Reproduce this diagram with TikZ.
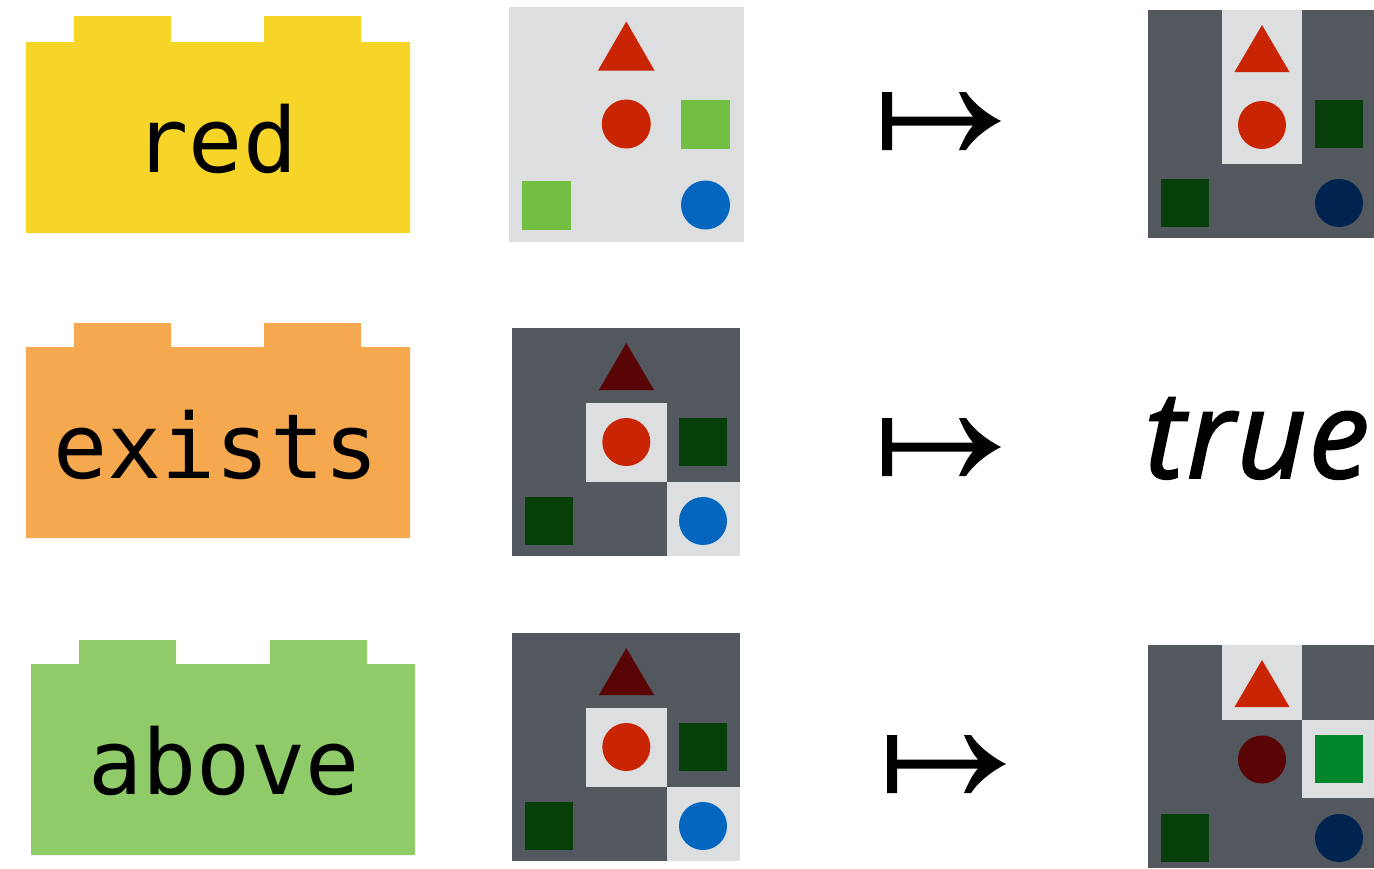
\documentclass[tikz,border=0pt]{standalone}
\usepackage{fontspec}
\usepackage{xcolor}
\setmonofont{DejaVu Sans Mono}
\newfontfamily\truefont[FakeBold=1.6,LetterSpace=1.5]{Open Sans}

\definecolor{brickyellow}{HTML}{F7D428}
\definecolor{brickorange}{HTML}{F5A84E}
\definecolor{brickgreen}{HTML}{8FCB69}
\definecolor{panellight}{HTML}{DDDEE0}
\definecolor{paneldark}{HTML}{53575E}
\definecolor{shapered}{HTML}{C92505}
\definecolor{shapedarkred}{HTML}{5A0505}
\definecolor{shapegreen}{HTML}{72BF44}
\definecolor{shapemidgreen}{HTML}{00872B}
\definecolor{shapedarkgreen}{HTML}{063F0A}
\definecolor{shapeblue}{HTML}{0466BF}
\definecolor{shapenavy}{HTML}{00244F}

\tikzset{
  word/.style={anchor=base, inner sep=0pt, font=\fontsize{90}{90}\selectfont\ttfamily},
  truth/.style={anchor=base, inner sep=0pt, font=\fontsize{122}{122}\selectfont\truefont\itshape}
}

\begin{document}
\begin{tikzpicture}[x=1pt, y=-1pt]
\useasboundingbox (0, 0) rectangle (1374, 868);
% bricks
\fill[brickyellow] (26, 233) -- (26, 42) -- (74, 42) -- (74, 16) -- (171, 16) -- (171, 42) -- (264, 42) -- (264, 16) -- (361, 16) -- (361, 42) -- (410, 42) -- (410, 233) -- cycle;
\fill[brickorange] (26, 538) -- (26, 347) -- (74, 347) -- (74, 323) -- (171, 323) -- (171, 347) -- (264, 347) -- (264, 323) -- (361, 323) -- (361, 347) -- (410, 347) -- (410, 538) -- cycle;
\fill[brickgreen] (31, 855) -- (31, 664) -- (79, 664) -- (79, 640) -- (176, 640) -- (176, 664) -- (270, 664) -- (270, 640) -- (367, 640) -- (367, 664) -- (415, 664) -- (415, 855) -- cycle;
\node[word] (red) at (216, 172) {red};
\node[word] (exists) at (216, 478) {exists};
\node[word] (above) at (224, 794) {above};
% top input
\fill[panellight] (509, 7) rectangle (744, 242);
\fill[shapered] (626.3, 21.5) -- (654.5, 70.5) -- (598, 70.5) -- cycle;
\fill[shapered] (626.3, 124) circle (24.5);
\fill[shapegreen] (681, 100) rectangle (730, 149);
\fill[shapegreen] (522, 181) rectangle (571, 230);
\fill[shapeblue] (705.5, 205) circle (24.5);
% the two other inputs
\foreach \y in {0, 305} {
\fill[paneldark] (512, 328+\y) rectangle (740, 556+\y);
\fill[panellight] (586, 403+\y) rectangle (667, 482+\y);
\fill[panellight] (667, 482+\y) rectangle (740, 556+\y);
\fill[shapedarkred] (626.3, 343+\y) -- (654, 390+\y) -- (599, 390+\y) -- cycle;
\fill[shapered] (626.3, 442+\y) circle (24);
\fill[shapedarkgreen] (679, 418+\y) rectangle (727, 466+\y);
\fill[shapedarkgreen] (525, 497+\y) rectangle (573, 545+\y);
\fill[shapeblue] (703, 521+\y) circle (24);
}
% map arrows
\foreach \x/\y in {0/0, 0/326, 5/643} {
\fill[black] (882+\x, 92+\y) -- (892+\x, 92+\y) -- (892+\x, 116.5+\y) -- (973+\x, 116.5+\y)
  .. controls (967+\x, 110+\y) and (963+\x, 101+\y) .. (959+\x, 92+\y) -- (966+\x, 92+\y)
  .. controls (973+\x, 103+\y) and (987+\x, 114+\y) .. (1001+\x, 121+\y)
  .. controls (987+\x, 128+\y) and (973+\x, 139+\y) .. (966+\x, 150+\y) -- (959+\x, 150+\y)
  .. controls (963+\x, 141+\y) and (967+\x, 132+\y) .. (973+\x, 125.5+\y)
  -- (892+\x, 125.5+\y) -- (892+\x, 150+\y) -- (882+\x, 150+\y) -- cycle;
}
% top output
\fill[paneldark] (1148, 10) rectangle (1374, 238);
\fill[panellight] (1222, 10) rectangle (1302, 164);
\fill[shapered] (1262, 25) -- (1289.5, 72) -- (1234.5, 72) -- cycle;
\fill[shapered] (1262, 125) circle (24);
\fill[shapedarkgreen] (1315, 100) rectangle (1363, 148);
\fill[shapedarkgreen] (1161, 179) rectangle (1209, 227);
\fill[shapenavy] (1339, 203) circle (24);
% middle output
\node[truth] (true) at (1257, 478) {true};
% bottom output
\fill[paneldark] (1148, 645) rectangle (1374, 868);
\fill[panellight] (1222, 645) rectangle (1302, 720);
\fill[panellight] (1302, 720) rectangle (1374, 798);
\fill[shapered] (1262, 660) -- (1289.5, 707) -- (1234.5, 707) -- cycle;
\fill[shapedarkred] (1262, 759.5) circle (24);
\fill[shapemidgreen] (1315, 735) rectangle (1363, 783);
\fill[shapedarkgreen] (1161, 814) rectangle (1209, 862);
\fill[shapenavy] (1339, 838) circle (24);
\end{tikzpicture}
\end{document}
